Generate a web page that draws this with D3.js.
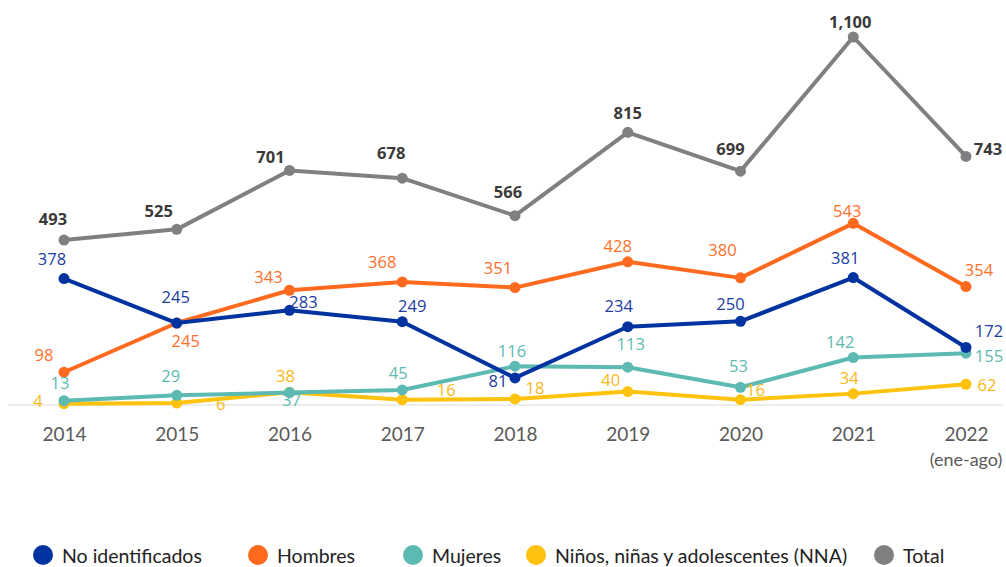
<!DOCTYPE html>
<html>
<head>
<meta charset="utf-8">
<script src="https://cdn.jsdelivr.net/npm/d3@7"></script>
<style>
  body { margin: 0; background: #fff; }
  svg { display: block; }
  .val { font-family: "Open Sans", sans-serif; font-size: 16.5px; }
  .tot { font-weight: bold; fill: #3a3a3a; }
  .axis-lbl { font-family: Lato, sans-serif; font-size: 19px; fill: #595959; }
  .leg { font-family: Lato, sans-serif; font-size: 19.5px; fill: #222; }
</style>
</head>
<body>
<div id="chart"></div>
<script>
// data
const years = ["2014", "2015", "2016", "2017", "2018", "2019", "2020", "2021", "2022"];
const noIdentificados = [378, 245, 283, 249, 81, 234, 250, 381, 172];
const hombres = [98, 245, 343, 368, 351, 428, 380, 543, 354];
const mujeres = [13, 29, 37, 45, 116, 113, 53, 142, 155];
const nna = [4, 6, 38, 16, 18, 40, 16, 34, 62];
const total = [493, 525, 701, 678, 566, 815, 699, 1100, 743];
const seriesNames = ["No identificados", "Hombres", "Mujeres", "Niños, niñas y adolescentes (NNA)", "Total"];

// label placement (dx, dy from the point) - layout only
const labelOffsets = {
  "Total": [[-11,-22],[-18,-19],[-19,-14],[-11,-26],[-7,-24],[0,-20],[-10,-23],[-3,-16],[22,-8]],
  "No identificados": [[-12,-20],[-1,-27],[14,-9],[10,-16],[-17,3],[-9,-21],[-10,-18],[-8,-20],[23,-17]],
  "Hombres": [[-20,-18],[9,17],[-21,-14],[-20,-20],[-17,-20],[-10,-16],[-18,-28],[-6,-13],[13,-17]],
  "Mujeres": [[-4,-18],[-6,-20],[2,7],[-4,-17],[-3,-16],[3,-24],[-2,-22],[-13,-16],[23,2]],
  "Niños, niñas y adolescentes (NNA)": [[-26,-3],[44,1],[-4,-17],[44,-10],[20,-11],[-17,-12],[15,-10],[-4,-16],[21,0]]
};

const series = [
  { name: seriesNames[0], values: noIdentificados, color: "#0033a0", text: "#1c3c9e" },
  { name: seriesNames[1], values: hombres, color: "#ff6a1f", text: "#ff6f2c" },
  { name: seriesNames[2], values: mujeres, color: "#5dbab2", text: "#5dbab2" },
  { name: seriesNames[3], values: nna, color: "#ffc20e", text: "#f7b916" },
  { name: seriesNames[4], values: total, color: "#808080", text: "#3a3a3a" }
];
// draw order: bottom series first, total on top
const drawOrder = [4, 3, 2, 1, 0];

const width = 1006, height = 567;
const svg = d3.select("#chart").append("svg")
  .attr("width", width)
  .attr("height", height);

const x = d3.scalePoint().domain(years).range([64, 966]);
const y = d3.scaleLinear().domain([0, 1100]).range([405, 37]);

// baseline
svg.append("line")
  .attr("x1", 8).attr("x2", 1003)
  .attr("y1", y(0)).attr("y2", y(0))
  .attr("stroke", "#d9d9d9")
  .attr("stroke-width", 1.2);

// x axis labels
const xAxis = svg.append("g").attr("transform", "translate(0," + 433 + ")")
  .call(d3.axisBottom(x).tickSize(0).tickPadding(0));
xAxis.select(".domain").remove();
xAxis.selectAll("text")
  .attr("class", "axis-lbl")
  .attr("dy", null)
  .attr("y", 0)
  .attr("dominant-baseline", "central")
  .attr("fill", null);

svg.append("text")
  .attr("class", "axis-lbl")
  .attr("x", x("2022"))
  .attr("y", 459)
  .attr("text-anchor", "middle")
  .attr("dominant-baseline", "central")
  .style("font-size", "18px")
  .text("(ene-ago)");

const line = d3.line()
  .x((d, i) => x(years[i]))
  .y(d => y(d));

drawOrder.forEach(si => {
  const s = series[si];
  const g = svg.append("g");
  g.append("path")
    .datum(s.values)
    .attr("d", line)
    .attr("fill", "none")
    .attr("stroke", s.color)
    .attr("stroke-width", 4)
    .attr("stroke-linejoin", "round");
  g.selectAll("circle")
    .data(s.values)
    .enter()
    .append("circle")
    .attr("cx", (d, i) => x(years[i]))
    .attr("cy", d => y(d))
    .attr("r", 5.5)
    .attr("fill", s.color);
});

// value labels
series.forEach(s => {
  const offs = labelOffsets[s.name];
  svg.append("g").selectAll("text")
    .data(s.values)
    .enter()
    .append("text")
    .attr("class", s.name === "Total" ? "val tot" : "val")
    .attr("x", (d, i) => x(years[i]) + offs[i][0])
    .attr("y", (d, i) => y(d) + offs[i][1])
    .attr("text-anchor", "middle")
    .attr("dominant-baseline", "central")
    .attr("fill", s.text)
    .text(d => d3.format(",")(d));
});

// legend
const legendX = [43, 258, 413, 536, 884];
const legend = svg.append("g");
series.forEach((s, i) => {
  const lg = legend.append("g").attr("transform", "translate(" + legendX[i] + ",555)");
  lg.append("circle").attr("r", 10).attr("fill", s.color);
  lg.append("text")
    .attr("class", "leg")
    .attr("x", 19)
    .attr("y", 0)
    .attr("dominant-baseline", "central")
    .text(s.name);
});
</script>
</body>
</html>
